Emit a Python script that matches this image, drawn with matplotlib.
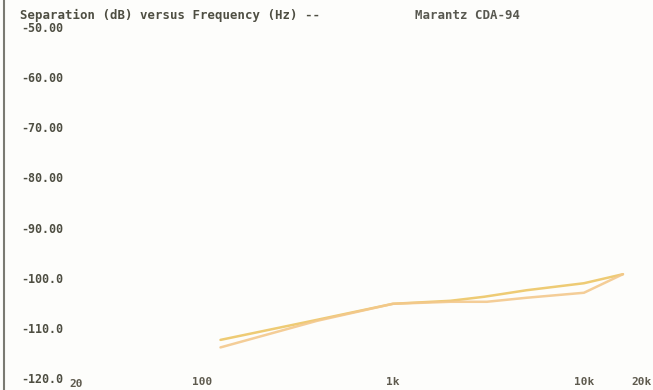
import matplotlib
matplotlib.use("Agg")
import matplotlib.pyplot as plt
from matplotlib.lines import Line2D
from matplotlib.transforms import ScaledTranslation

# ---- data ----
freq_a = [125, 400, 1000, 2000, 3000, 5000, 10000, 16000]
sep_a = [-112.4, -108.4, -105.2, -104.6, -103.8, -102.5, -101.1, -99.3]
freq_b = [125, 400, 1000, 2000, 3100, 5000, 10000, 16000]
sep_b = [-113.9, -108.6, -105.2, -104.8, -104.8, -104.0, -103.0, -99.3]

yticks = [-120, -110, -100, -90, -80, -70, -60, -50]
ytick_labels = ["-120.0", "-110.0", "-100.0", "-90.00", "-80.00", "-70.00", "-60.00", "-50.00"]
xticks = [20, 100, 1000, 10000, 20000]
xtick_labels = ["20", "100", "1k", "10k", "20k"]
title_left = "Separation (dB) versus Frequency (Hz) --"
title_right = "Marantz CDA-94"

W, H = 653, 390
fig = plt.figure(figsize=(W / 100, H / 100), dpi=100, facecolor="#fdfdfb")
ax = fig.add_axes([68.5 / W, (H - 378) / H, 577 / W, 351 / H])
ax.set_facecolor("#fdfdfb")
ax.set_xscale("log")
ax.set_xlim(20, 21000)
ax.set_ylim(-120, -50)

ax.plot(freq_a, sep_a, color="#eecb74", lw=1.8, solid_capstyle="round")
ax.plot(freq_b, sep_b, color="#f3c88c", lw=1.8, solid_capstyle="round", alpha=0.9)

for s in ax.spines.values():
    s.set_visible(False)

font = dict(family="DejaVu Sans Mono", weight="bold")
txtc = "#4e4e42"

ax.set_yticks(yticks)
ax.set_yticklabels(ytick_labels, fontsize=8.4, color=txtc, **font)
ax.set_xticks(xticks)
ax.set_xticklabels(xtick_labels, fontsize=8.0, color="#5e5a4e", **font)
ax.xaxis.set_minor_locator(matplotlib.ticker.NullLocator())
ax.tick_params(axis="y", length=0, pad=4)
ax.tick_params(axis="x", length=0, pad=-0.5)

# the "20" label sits a little right of its tick in the reference
lbl20 = ax.get_xticklabels()[0]
lbl20.set_transform(lbl20.get_transform() + ScaledTranslation(7.5 / 100, -2 / 100, fig.dpi_scale_trans))

fig.text(20 / W, 1 - 15.5 / H, title_left, fontsize=8.9, color=txtc,
         ha="left", va="center", **font)
fig.text(415 / W, 1 - 15.5 / H, title_right, fontsize=8.9, color="#585850",
         ha="left", va="center", **font)

fig.add_artist(Line2D([3.5 / W, 3.5 / W], [0, 1], transform=fig.transFigure,
                      color="#7a7a72", lw=1.5))

fig.savefig("out.png", dpi=100, facecolor=fig.get_facecolor())
